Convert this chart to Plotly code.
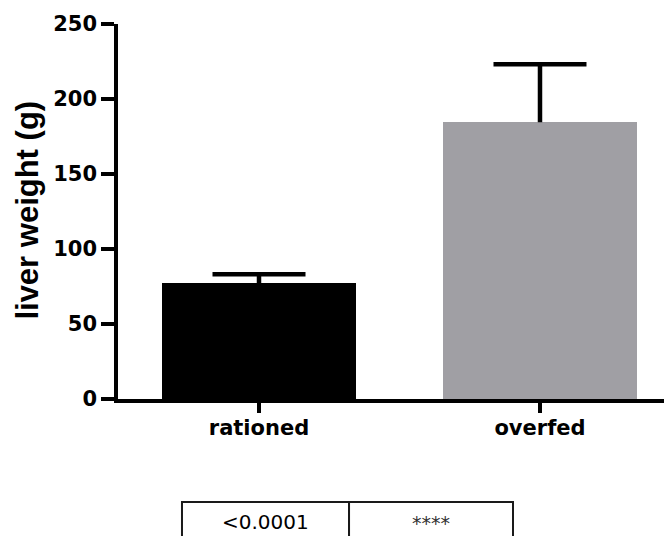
import plotly.graph_objects as go

groups = ["rationed", "overfed"]
liver_weight = [77.1, 184.5]
error_up = [6.1, 38.7]
bar_colors = ["#000000", "#a09fa4"]
y_ticks = [0, 50, 100, 150, 200, 250]
table_cells = ["<0.0001", "****"]

FONT = "DejaVu Sans"
TITLE_FONT = "Liberation Sans"

x_pos = list(range(len(groups)))
cap_half = 0.1655

fig = go.Figure()
fig.add_trace(go.Bar(
    x=x_pos,
    y=liver_weight,
    width=0.687,
    marker=dict(color=bar_colors, line=dict(width=0)),
    showlegend=False,
    hoverinfo="skip",
))

# upward-only error bars (no cap at the bar top, like Prism)
ex, ey = [], []
for x, m, e in zip(x_pos, liver_weight, error_up):
    ex += [x, x, None, x - cap_half, x + cap_half, None]
    ey += [m, m + e, None, m + e, m + e, None]
fig.add_trace(go.Scatter(
    x=ex, y=ey, mode="lines",
    line=dict(color="#000000", width=4.5),
    showlegend=False, hoverinfo="skip",
))

# significance table under the chart
x0, x_mid, x1 = 0.1155, 0.417, 0.713
y_top, y_bot = -0.2747, -0.42
for xa, xb in [(x0, x_mid), (x_mid, x1)]:
    fig.add_shape(type="rect", xref="paper", yref="paper",
                  x0=xa, x1=xb, y0=y_bot, y1=y_top,
                  line=dict(color="#1a1a1a", width=2))

fig.add_annotation(xref="paper", yref="paper", x=(x0 + x_mid) / 2, y=-0.328,
                   xanchor="center", yanchor="middle",
                   text=table_cells[0], showarrow=False,
                   font=dict(family=FONT, size=20, color="#000"))
fig.add_annotation(xref="paper", yref="paper", x=(x_mid + x1) / 2, y=-0.33,
                   xanchor="center", yanchor="middle",
                   text=table_cells[1], showarrow=False,
                   font=dict(family=FONT, size=19, color="#333"))

# y-axis title
fig.add_annotation(xref="paper", yref="paper", x=-0.1625, y=0.505,
                   xanchor="center", yanchor="middle", textangle=-90,
                   text="liver weight (g)", showarrow=False,
                   font=dict(family=TITLE_FONT, size=31, color="#000", weight="bold"))

fig.update_layout(
    width=664,
    height=528,
    margin=dict(l=110, r=0, t=16, b=137),
    paper_bgcolor="white",
    plot_bgcolor="white",
    font=dict(family=FONT, color="#000"),
    bargap=0,
    xaxis=dict(
        range=[-0.5018, 1.4698],
        tickvals=x_pos,
        ticktext=groups,
        showline=True, linecolor="#000", linewidth=3.5,
        ticks="outside", ticklen=10, tickwidth=3.5, tickcolor="#000",
        ticklabelstandoff=-3,
        tickfont=dict(family=FONT, size=21, color="#000", weight="bold"),
        showgrid=False, zeroline=False, fixedrange=True, automargin=False,
    ),
    yaxis=dict(
        range=[0, 250],
        tickvals=y_ticks,
        showline=True, linecolor="#000", linewidth=3.5,
        ticks="outside", ticklen=13, tickwidth=3.5, tickcolor="#000",
        tickfont=dict(family=FONT, size=21, color="#000", weight="bold"),
        showgrid=False, zeroline=False, fixedrange=True, automargin=False,
    ),
)

fig.write_html("out.html")
